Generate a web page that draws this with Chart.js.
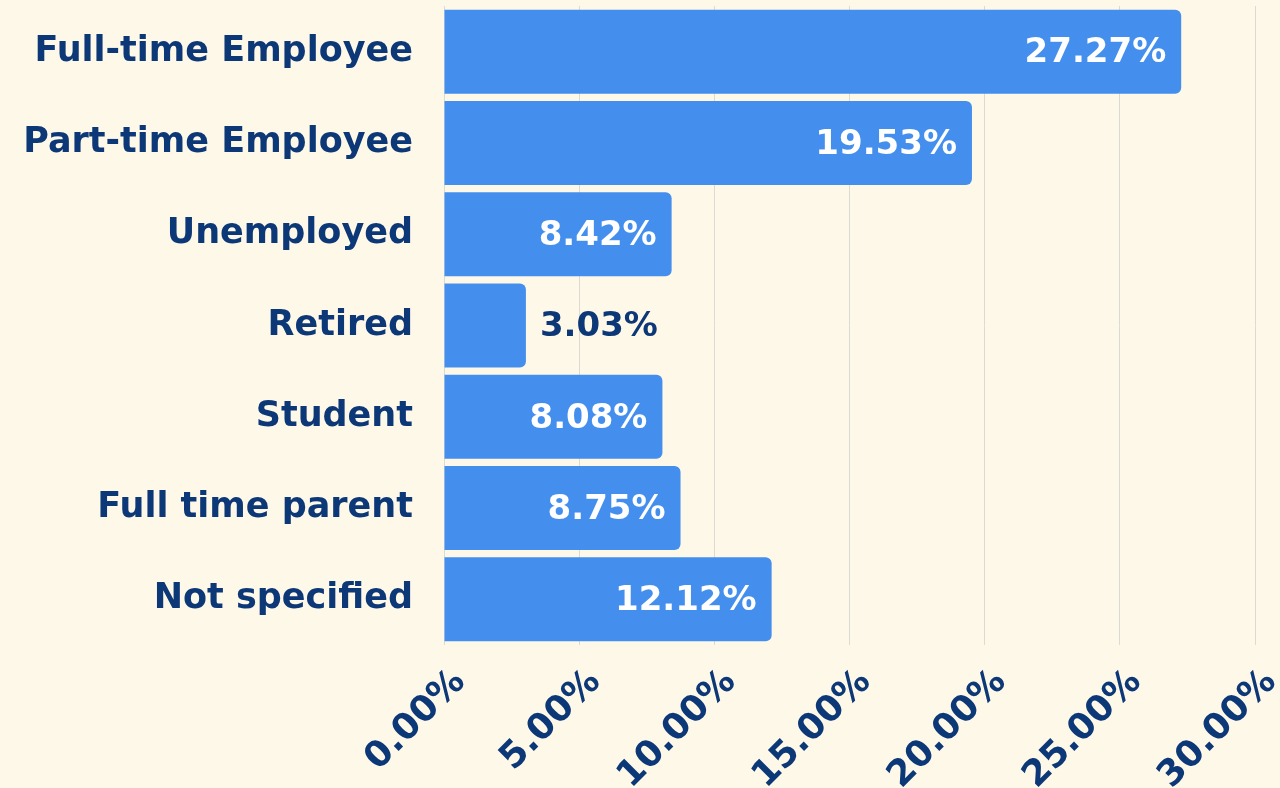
<!DOCTYPE html>
<html>
<head>
<meta charset="utf-8">
<script src="https://cdn.jsdelivr.net/npm/chart.js@4"></script>
<style>
  html, body { margin: 0; padding: 0; background: #fef8e8; }
  #wrap { width: 1280px; height: 788px; }
</style>
</head>
<body>
<div id="wrap"><canvas id="chart"></canvas></div>
<script>
let categories = ["Full-time Employee", "Part-time Employee", "Unemployed", "Retired", "Student", "Full time parent", "Not specified"];
let shares = [27.27, 19.53, 8.42, 3.03, 8.08, 8.75, 12.12];
let tickValues = [0, 5, 10, 15, 20, 25, 30];

let navy = "#0d3877";
let blue = "#448fee";
let fontFamily = "'DejaVu Sans', sans-serif";

// value labels drawn at the end of each bar
let barLabels = {
  id: 'barLabels',
  afterDatasetsDraw(chart) {
    let ctx = chart.ctx;
    let meta = chart.getDatasetMeta(0);
    ctx.save();
    ctx.font = "bold 34px " + fontFamily;
    ctx.textBaseline = 'middle';
    meta.data.forEach((bar, i) => {
      let text = shares[i].toFixed(2) + '%';
      let w = ctx.measureText(text).width;
      let inside = bar.x - bar.base > w + 30;
      if (inside) {
        ctx.fillStyle = '#ffffff';
        ctx.textAlign = 'right';
        ctx.fillText(text, bar.x - 15, bar.y + 2);
      } else {
        ctx.fillStyle = navy;
        ctx.textAlign = 'left';
        ctx.fillText(text, bar.x + 14, bar.y + 2);
      }
    });
    ctx.restore();
  }
};

let ctx = document.getElementById('chart').getContext('2d');
new Chart(ctx, {
  type: 'bar',
  data: {
    labels: categories,
    datasets: [{
      data: shares,
      backgroundColor: blue,
      borderRadius: 6,
      borderSkipped: 'start',
      barPercentage: 0.92,
      categoryPercentage: 1.0,
    }],
  },
  options: {
    indexAxis: 'y',
    responsive: true,
    maintainAspectRatio: false,
    animation: false,
    layout: { padding: { top: 6, right: 25, left: 0, bottom: 0 } },
    plugins: {
      legend: { display: false },
      tooltip: { enabled: false },
    },
    scales: {
      x: {
        min: 0,
        max: 30,
        afterBuildTicks(axis) {
          axis.ticks = tickValues.map(v => ({ value: v }));
        },
        afterFit(axis) {
          axis.height = 143;
          axis.paddingLeft = 0;
          axis.paddingRight = 0;
        },
        grid: { color: '#dcdad3', drawTicks: false, lineWidth: 1 },
        border: { display: false },
        ticks: {
          color: navy,
          font: { family: fontFamily, size: 36, weight: 'bold' },
          maxRotation: 45,
          minRotation: 45,
          padding: 16,
          labelOffset: 16,
          callback: v => v.toFixed(2) + '%',
        },
      },
      y: {
        afterFit(axis) {
          axis.width = 444;
          axis.paddingTop = 0;
          axis.paddingBottom = 0;
        },
        grid: { display: false },
        border: { display: false },
        ticks: {
          color: navy,
          font: { family: fontFamily, size: 35, weight: 'bold' },
          padding: 23,
        },
      },
    },
  },
  plugins: [barLabels],
});
</script>
</body>
</html>
